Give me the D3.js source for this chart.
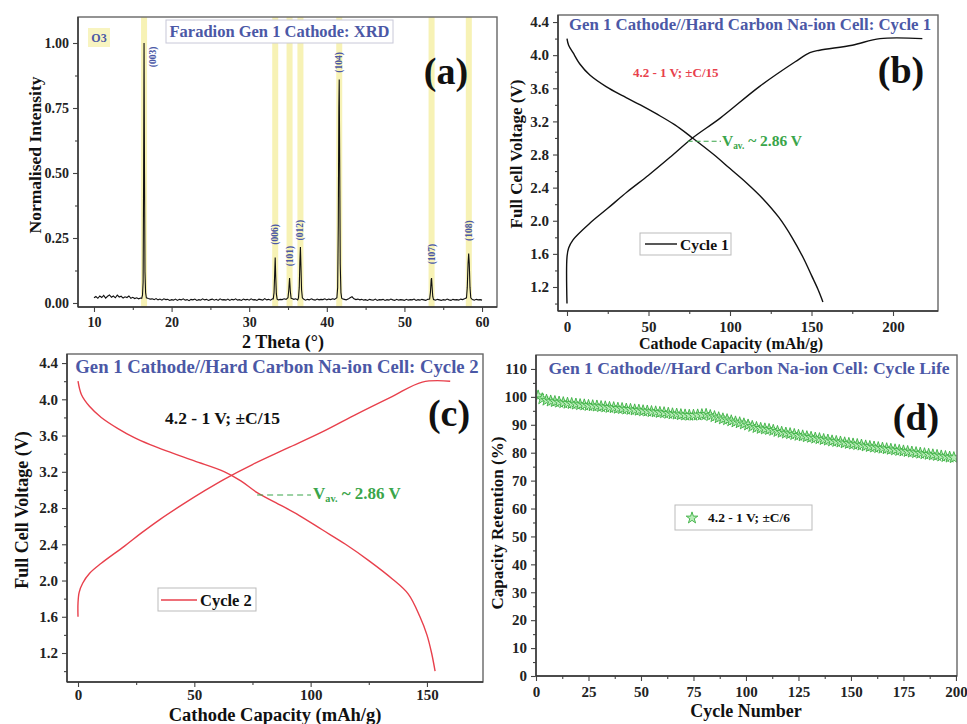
<!DOCTYPE html>
<html>
<head>
<meta charset="utf-8">
<script src="https://cdn.jsdelivr.net/npm/d3@7"></script>
<style>
body { margin: 0; background: #fff; }
svg text { font-family: "Liberation Serif", "DejaVu Serif", serif; font-weight: bold; }
</style>
</head>
<body>
<div id="chart"></div>
<script>
// ---------- (a) XRD ----------
// baseline intensity, 2theta from 10 to 60 in 0.25 deg steps
const xrdBaseline = [
  0.020,0.025,0.018,0.027,0.021,0.029,0.019,0.026,0.031,0.022,0.027,0.020,0.030,0.023,0.026,0.019,0.024,0.021,0.027,0.018,
  0.022,0.017,0.020,0.016,0.019,0.015,0.018,0.020,0.017,0.015,0.016,0.013,0.017,0.012,0.015,0.011,0.016,0.013,0.014,0.010,
  0.013,0.011,0.015,0.010,0.014,0.012,0.016,0.011,0.013,0.009,0.014,0.012,0.015,0.010,0.013,0.011,0.016,0.012,0.014,0.010,
  0.013,0.015,0.011,0.014,0.010,0.016,0.012,0.013,0.011,0.015,0.010,0.014,0.012,0.016,0.011,0.013,0.010,0.015,0.012,0.014,
  0.011,0.016,0.012,0.013,0.010,0.015,0.013,0.011,0.017,0.012,0.014,0.011,0.016,0.013,0.015,0.012,0.014,0.013,0.016,0.014,
  0.015,0.013,0.017,0.014,0.016,0.012,0.018,0.013,0.015,0.011,0.014,0.012,0.016,0.013,0.011,0.015,0.012,0.014,0.013,0.016,
  0.012,0.015,0.013,0.016,0.014,0.017,0.015,0.018,0.016,0.014,0.012,0.015,0.020,0.024,0.016,0.013,0.015,0.012,0.014,0.011,
  0.013,0.010,0.014,0.012,0.011,0.015,0.010,0.013,0.012,0.014,0.010,0.013,0.011,0.015,0.012,0.010,0.014,0.011,0.013,0.012,
  0.010,0.014,0.011,0.013,0.012,0.015,0.010,0.013,0.011,0.014,0.012,0.010,0.014,0.012,0.016,0.013,0.011,0.014,0.012,0.010,
  0.013,0.011,0.015,0.012,0.010,0.014,0.012,0.013,0.011,0.015,0.013,0.016,0.014,0.012,0.015,0.013,0.011,0.014,0.012,0.013,
  0.011
];
const peakLabels = ["(003)", "(006)", "(101)", "(012)", "(104)", "(107)", "(108)"];
const peakTheta  = [16.45, 33.35, 35.2, 36.6, 41.6, 53.5, 58.3];
const peakHeight = [1.0, 0.175, 0.096, 0.215, 0.86, 0.096, 0.19];
const peakProfiles = [
  [[16.15,0.018],[16.25,0.03],[16.33,0.08],[16.39,0.45],[16.45,1.0],[16.51,0.5],[16.57,0.12],[16.65,0.04],[16.75,0.02]],
  [[33.1,0.016],[33.2,0.04],[33.28,0.11],[33.35,0.175],[33.42,0.1],[33.5,0.035],[33.6,0.015]],
  [[35.0,0.02],[35.1,0.05],[35.2,0.096],[35.3,0.045],[35.4,0.018]],
  [[36.35,0.02],[36.45,0.06],[36.53,0.16],[36.6,0.215],[36.67,0.14],[36.75,0.05],[36.85,0.02]],
  [[41.3,0.02],[41.4,0.06],[41.48,0.3],[41.55,0.75],[41.6,0.86],[41.66,0.55],[41.73,0.15],[41.82,0.04],[41.92,0.018]],
  [[53.25,0.015],[53.35,0.04],[53.45,0.09],[53.5,0.096],[53.57,0.06],[53.65,0.025],[53.75,0.013]],
  [[58.0,0.02],[58.1,0.06],[58.2,0.15],[58.28,0.19],[58.36,0.15],[58.45,0.06],[58.55,0.02]]
];

// ---------- (b) cycle 1 ----------
const c1ChargeCap = [0, 0, 1, 3.7, 14, 25, 37, 50, 64, 77, 94, 118, 140, 149, 155, 175, 192, 218];
const c1ChargeV   = [1.0, 1.56, 1.67, 1.77, 1.97, 2.15, 2.35, 2.55, 2.78, 3.0, 3.24, 3.62, 3.92, 4.03, 4.06, 4.12, 4.2, 4.2];
const c1DischCap  = [0, 1, 3.7, 8, 14, 24, 34, 45, 55, 66, 77, 90, 100, 110, 120, 130, 138, 145, 150, 154, 157];
const c1DischV    = [4.2, 4.12, 4.03, 3.89, 3.76, 3.62, 3.51, 3.40, 3.29, 3.16, 3.0, 2.8, 2.63, 2.46, 2.27, 2.04, 1.8, 1.55, 1.34, 1.17, 1.02];

// ---------- (c) cycle 2 ----------
const c2ChargeCap = [0, 0, 0.5, 2, 5, 10, 20, 27, 35, 45, 55, 63, 75, 90, 105, 120, 135, 148, 160];
const c2ChargeV   = [1.6, 1.75, 1.87, 1.97, 2.08, 2.19, 2.38, 2.52, 2.67, 2.84, 3.0, 3.12, 3.28, 3.46, 3.64, 3.84, 4.03, 4.19, 4.2];
const c2DischCap  = [0, 1.5, 5, 10, 17, 24, 31, 38, 50, 63, 70, 77, 85, 95, 105, 115, 125, 135, 142, 147, 150, 152, 153.5];
const c2DischV    = [4.2, 4.05, 3.92, 3.8, 3.68, 3.58, 3.5, 3.43, 3.32, 3.2, 3.1, 2.97, 2.86, 2.72, 2.56, 2.4, 2.22, 2.02, 1.85, 1.6, 1.4, 1.2, 1.0];

// ---------- (d) cycle life, every second cycle ----------
const lifeCycles = d3.range(1, 200, 2);
const lifeRetention = [
  100.3,99.3,98.8,98.5,98.3,98.1,97.9,97.7,97.6,97.4,97.2,97.1,96.9,96.8,96.7,96.5,96.4,96.2,96.1,95.9,
  95.8,95.6,95.5,95.3,95.2,95.0,94.9,94.7,94.6,94.4,94.3,94.1,93.9,93.8,93.6,93.5,93.4,93.4,93.5,93.6,
  93.7,93.3,92.9,92.5,92.1,91.8,91.4,91.0,90.7,90.3,89.9,89.4,89.0,88.7,88.5,88.3,88.0,87.6,87.3,87.0,
  86.8,86.5,86.2,86.0,85.7,85.5,85.2,85.0,84.7,84.5,84.2,84.0,83.8,83.5,83.3,83.1,82.9,82.7,82.4,82.2,
  82.0,81.8,81.6,81.4,81.2,81.0,80.8,80.6,80.4,80.2,80.0,79.8,79.6,79.4,79.2,79.0,78.8,78.6,78.4,78.2
];

const BLUE = "#4b58a6", RED = "#e8404c", GREEN = "#3aa54a";

const svg = d3.select("#chart").append("svg")
    .attr("width", 967)
    .attr("height", 724);
svg.append("rect").attr("width", 967).attr("height", 724).attr("fill", "#fff");

function makePanel(cfg) {
    let p = {};
    p.x = d3.scaleLinear().domain(cfg.xDom).range([cfg.l, cfg.r]);
    p.y = d3.scaleLinear().domain(cfg.yDom).range([cfg.b, cfg.t]);

    svg.append("clipPath").attr("id", "clip-" + cfg.name)
        .append("rect")
        .attr("x", cfg.l).attr("y", cfg.t)
        .attr("width", cfg.r - cfg.l).attr("height", cfg.b - cfg.t);

    p.plot = svg.append("g").attr("clip-path", "url(#clip-" + cfg.name + ")");
    p.top = svg.append("g");

    // minor ticks
    p.top.append("g")
        .attr("transform", "translate(0," + cfg.b + ")")
        .call(d3.axisBottom(p.x).tickValues(cfg.xMinor).tickSize(3).tickFormat(""));
    p.top.append("g")
        .attr("transform", "translate(" + cfg.l + ",0)")
        .call(d3.axisLeft(p.y).tickValues(cfg.yMinor).tickSize(3).tickFormat(""));

    // major ticks
    p.top.append("g")
        .attr("class", "xa")
        .attr("transform", "translate(0," + cfg.b + ")")
        .call(d3.axisBottom(p.x).tickValues(cfg.xTicks).tickSize(5).tickPadding(cfg.xPad || 5).tickFormat(cfg.xFmt));
    p.top.append("g")
        .attr("class", "ya")
        .attr("transform", "translate(" + cfg.l + ",0)")
        .call(d3.axisLeft(p.y).tickValues(cfg.yTicks).tickSize(5).tickPadding(4).tickFormat(cfg.yFmt));

    p.top.selectAll(".domain").remove();
    p.top.selectAll(".tick line").attr("stroke", "#444").attr("stroke-width", 1.1);
    p.top.selectAll(".tick text")
        .attr("fill", "#222")
        .style("font-size", cfg.tickSize + "px")
        .style("font-family", "'Liberation Serif', serif")
        .style("font-weight", "bold");

    // frame
    p.top.append("rect")
        .attr("x", cfg.l).attr("y", cfg.t)
        .attr("width", cfg.r - cfg.l).attr("height", cfg.b - cfg.t)
        .attr("fill", "none").attr("stroke", "#666").attr("stroke-width", 1.4);
    p.top.append("line")
        .attr("x1", cfg.l).attr("x2", cfg.r).attr("y1", cfg.b).attr("y2", cfg.b)
        .attr("stroke", "#333").attr("stroke-width", 1.4);
    p.top.append("line")
        .attr("x1", cfg.l).attr("x2", cfg.l).attr("y1", cfg.t).attr("y2", cfg.b)
        .attr("stroke", "#333").attr("stroke-width", 1.4);
    return p;
}

function addText(g, x, y, str, size, opts) {
    opts = opts || {};
    let t = g.append("text")
        .attr("x", x).attr("y", y)
        .attr("text-anchor", opts.anchor || "start")
        .attr("fill", opts.color || "#111")
        .style("font-size", size + "px")
        .text(str);
    if (opts.rotate) t.attr("transform", "rotate(-90," + x + "," + y + ")");
    return t;
}

function vavText(g, x, y, size) {
    let t = g.append("text").attr("x", x).attr("y", y).attr("fill", GREEN).style("font-size", size + "px");
    t.append("tspan").text("V");
    t.append("tspan").attr("dy", 3).style("font-size", (size * 0.6) + "px").text("av.");
    t.append("tspan").attr("dy", -3).text(" ~ 2.86 V");
}

const fmt1 = d3.format(".1f");
const vTicks = [1.2, 1.6, 2.0, 2.4, 2.8, 3.2, 3.6, 4.0, 4.4];
const vMinor = [1.0, 1.4, 1.8, 2.2, 2.6, 3.0, 3.4, 3.8, 4.2];

// ================= (a) =================
const pa = makePanel({
    name: "a", l: 78, r: 497, t: 17, b: 307,
    xDom: [7.94, 61.93], yDom: [-0.0154, 1.1],
    xTicks: [10, 20, 30, 40, 50, 60], xMinor: [15, 25, 35, 45, 55],
    yTicks: [0, 0.25, 0.5, 0.75, 1.0], yMinor: [0.125, 0.375, 0.625, 0.875],
    xFmt: d3.format("d"), yFmt: d3.format(".2f"), tickSize: 14
});

// yellow bands behind peaks
pa.plot.selectAll(".band").data(peakTheta).enter()
    .append("rect")
    .attr("x", d => pa.x(d) - 3)
    .attr("width", 6)
    .attr("y", 17).attr("height", 290)
    .attr("fill", "#f6f0a8").attr("opacity", 0.85);

// assemble the pattern: baseline points outside peak windows + peak profiles
let xrd = [];
xrdBaseline.forEach((v, i) => {
    const th = 10 + i * 0.25;
    const inPeak = peakProfiles.some(pk => th >= pk[0][0] - 0.05 && th <= pk[pk.length - 1][0] + 0.05);
    if (!inPeak) xrd.push([th, v]);
});
peakProfiles.forEach(pk => pk.forEach(d => xrd.push(d)));
xrd.sort((a, b) => a[0] - b[0]);

pa.plot.append("path")
    .datum(xrd)
    .attr("fill", "none").attr("stroke", "#111").attr("stroke-width", 1.1)
    .attr("d", d3.line().x(d => pa.x(d[0])).y(d => pa.y(d[1])));

// peak labels
const labelShift = [[9, 14], [0, -23], [0, -22], [0, -17], [0, -17], [0, -24], [0, -23]];
peakLabels.forEach((lab, i) => {
    const cx = pa.x(peakTheta[i]) + labelShift[i][0];
    const cy = pa.y(peakHeight[i]) + labelShift[i][1];
    pa.top.append("text")
        .attr("transform", "translate(" + (cx + 3) + "," + cy + ") rotate(-90)")
        .attr("text-anchor", "middle")
        .attr("fill", BLUE)
        .style("font-size", "9.5px")
        .text(lab);
});

pa.top.append("rect").attr("x", 88).attr("y", 28).attr("width", 22).attr("height", 19).attr("fill", "#f8f4c0");
addText(pa.top, 99, 42, "O3", 12, {anchor: "middle", color: BLUE});
pa.top.append("rect").attr("x", 166).attr("y", 20).attr("width", 227).attr("height", 23)
    .attr("fill", "#fff").attr("stroke", "#c8c8d8");
addText(pa.top, 279.5, 37, "Faradion Gen 1 Cathode: XRD", 16.5, {anchor: "middle", color: BLUE});
addText(pa.top, 446, 84, "(a)", 38, {anchor: "middle"});
addText(svg, 41, 155, "Normalised Intensity", 17.5, {anchor: "middle", rotate: true});
addText(svg, 283, 348, "2 Theta (°)", 18, {anchor: "middle"});

// ================= (b) =================
const pb = makePanel({
    name: "b", l: 558, r: 938, t: 15, b: 311,
    xDom: [-5.52, 227.6], yDom: [0.91, 4.485],
    xTicks: [0, 50, 100, 150, 200], xMinor: [25, 75, 125, 175],
    yTicks: vTicks, yMinor: vMinor,
    xFmt: d3.format("d"), yFmt: fmt1, tickSize: 15
});
const lineB = d3.line().curve(d3.curveCatmullRom.alpha(0.5)).x(d => pb.x(d[0])).y(d => pb.y(d[1]));
[[c1ChargeCap, c1ChargeV], [c1DischCap, c1DischV]].forEach(s => {
    pb.plot.append("path")
        .datum(s[0].map((c, i) => [c, s[1][i]]))
        .attr("fill", "none").attr("stroke", "#111").attr("stroke-width", 1.4)
        .attr("d", lineB);
});
addText(pb.top, 750, 30, "Gen 1 Cathode//Hard Carbon Na-ion Cell: Cycle 1", 16.8, {anchor: "middle", color: BLUE});
addText(pb.top, 901, 83, "(b)", 38, {anchor: "middle"});
addText(pb.top, 633, 77, "4.2 - 1 V; ±C/15", 13, {color: RED});
pb.top.append("line")
    .attr("x1", pb.x(74)).attr("x2", 721).attr("y1", pb.y(2.96)).attr("y2", pb.y(2.96))
    .attr("stroke", GREEN).attr("stroke-width", 1.2).attr("stroke-dasharray", "5,3");
vavText(pb.top, 722, 146, 15.5);
pb.top.append("rect").attr("x", 640).attr("y", 233).attr("width", 91).attr("height", 22)
    .attr("fill", "#fff").attr("stroke", "#bbb");
pb.top.append("line").attr("x1", 645).attr("x2", 677).attr("y1", 244).attr("y2", 244)
    .attr("stroke", "#111").attr("stroke-width", 1.4);
addText(pb.top, 680, 249.5, "Cycle 1", 15.5);
addText(svg, 522, 154, "Full Cell Voltage (V)", 17, {anchor: "middle", rotate: true});
addText(svg, 731, 349, "Cathode Capacity (mAh/g)", 16, {anchor: "middle"});

// ================= (c) =================
const pc = makePanel({
    name: "c", l: 67, r: 483, t: 354, b: 682,
    xDom: [-4.73, 174.1], yDom: [0.88, 4.5],
    xTicks: [0, 50, 100, 150], xMinor: [25, 75, 125],
    yTicks: vTicks, yMinor: vMinor,
    xFmt: d3.format("d"), yFmt: fmt1, tickSize: 15, xPad: 2
});
const lineC = d3.line().curve(d3.curveCatmullRom.alpha(0.5)).x(d => pc.x(d[0])).y(d => pc.y(d[1]));
[[c2ChargeCap, c2ChargeV], [c2DischCap, c2DischV]].forEach(s => {
    pc.plot.append("path")
        .datum(s[0].map((c, i) => [c, s[1][i]]))
        .attr("fill", "none").attr("stroke", RED).attr("stroke-width", 1.4)
        .attr("d", lineC);
});
addText(pc.top, 277, 373, "Gen 1 Cathode//Hard Carbon Na-ion Cell: Cycle 2", 18.7, {anchor: "middle", color: BLUE});
addText(pc.top, 449, 426, "(c)", 38, {anchor: "middle"});
addText(pc.top, 165, 424, "4.2 - 1 V; ±C/15", 17.5);
pc.top.append("line")
    .attr("x1", pc.x(77)).attr("x2", 311).attr("y1", 495).attr("y2", 495)
    .attr("stroke", GREEN).attr("stroke-width", 1.2).attr("stroke-dasharray", "6,4");
vavText(pc.top, 313, 499, 17);
pc.top.append("rect").attr("x", 158).attr("y", 588).attr("width", 98).attr("height", 23)
    .attr("fill", "#fff").attr("stroke", "#bbb");
pc.top.append("line").attr("x1", 161).attr("x2", 197).attr("y1", 600).attr("y2", 600)
    .attr("stroke", RED).attr("stroke-width", 1.4);
addText(pc.top, 200, 606, "Cycle 2", 16.5);
addText(svg, 28, 510, "Full Cell Voltage (V)", 18, {anchor: "middle", rotate: true});
addText(svg, 275, 721, "Cathode Capacity (mAh/g)", 18.5, {anchor: "middle"});

// ================= (d) =================
const pd = makePanel({
    name: "d", l: 536, r: 957, t: 355, b: 676,
    xDom: [0, 200.5], yDom: [0, 115],
    xTicks: d3.range(0, 201, 25), xMinor: d3.range(12.5, 200, 25),
    yTicks: d3.range(0, 111, 10), yMinor: d3.range(5, 111, 10),
    xFmt: d3.format("d"), yFmt: d3.format("d"), tickSize: 15
});
const star = d3.symbol().type(d3.symbolStar).size(42);
pd.plot.selectAll(".pt").data(lifeCycles).enter()
    .append("path")
    .attr("transform", (d, i) => "translate(" + pd.x(d) + "," + pd.y(lifeRetention[i]) + ")")
    .attr("d", star)
    .attr("fill", "#b8ecb8").attr("stroke", "#3cb043").attr("stroke-width", 0.9);
addText(pd.top, 749, 374, "Gen 1 Cathode//Hard Carbon Na-ion Cell: Cycle Life", 17.6, {anchor: "middle", color: BLUE});
addText(pd.top, 916, 430, "(d)", 38, {anchor: "middle"});
pd.top.append("rect").attr("x", 675).attr("y", 505).attr("width", 137).attr("height", 25)
    .attr("fill", "#fff").attr("stroke", "#bbb");
pd.top.append("path").attr("transform", "translate(692,518)").attr("d", star)
    .attr("fill", "#b8ecb8").attr("stroke", "#3cb043").attr("stroke-width", 0.9);
addText(pd.top, 708, 522, "4.2 - 1 V; ±C/6", 13.5);
addText(svg, 503, 523, "Capacity Retention (%)", 17, {anchor: "middle", rotate: true});
addText(svg, 746, 717, "Cycle Number", 18, {anchor: "middle"});
</script>
</body>
</html>
